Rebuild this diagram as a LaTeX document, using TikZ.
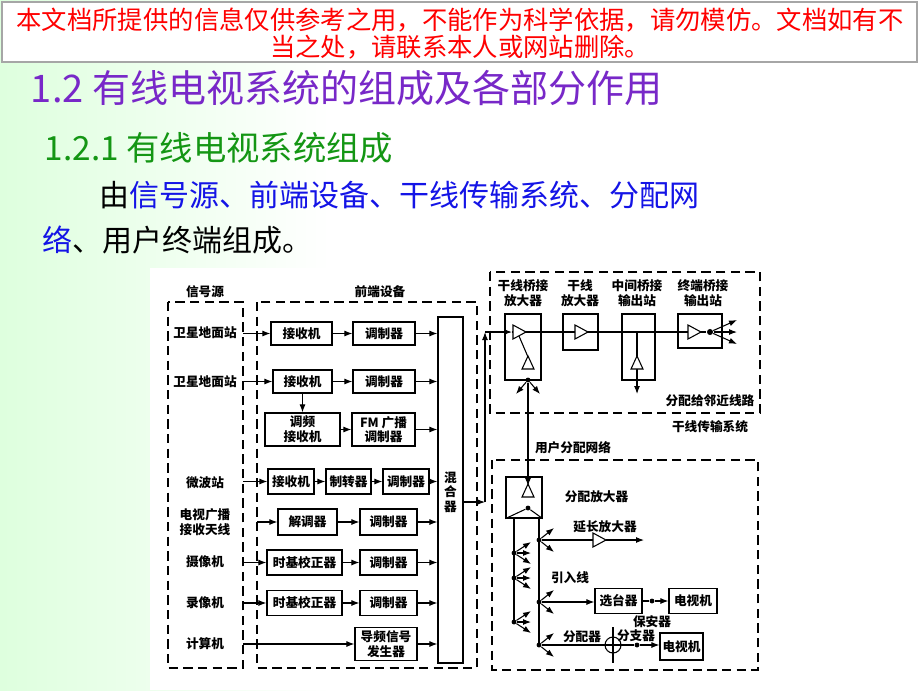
\documentclass[tikz,border=0pt]{standalone}
\usepackage{fontspec}
\setmainfont{Noto Sans CJK SC}
\usetikzlibrary{arrows.meta}
\definecolor{ttlpurple}{RGB}{120,40,200}
\definecolor{subgreen}{RGB}{20,150,20}
\definecolor{txtblue}{RGB}{20,20,230}
\tikzset{every picture/.style={line width=0.75pt}}
\tikzset{
  box/.style={draw,line width=0.9pt,inner sep=0pt,align=center,font=\fontsize{9.5}{11}\selectfont\bfseries},
  lbl/.style={align=center,font=\fontsize{9.5}{11}\selectfont\bfseries},
  arr/.style={-{Latex[length=6pt,width=4.5pt]},line width=0.8pt},
  ln/.style={line width=0.8pt},
  dsh/.style={line width=1pt,dash pattern=on 7pt off 4pt},
  dot/.style={circle,fill,inner sep=1.6pt},
  ampR/.pic={\draw[fill=white,line width=0.8pt] (-6,-7) -- (7,0) -- (-6,7) -- cycle;},
  ampD/.pic={\draw[fill=white,line width=0.8pt] (-6,-6) -- (6,-6) -- (0,7) -- cycle;}
}
\begin{document}
\begin{tikzpicture}[x=0.75pt,y=0.75pt,yscale=-1,xscale=1]
\useasboundingbox (0,0) rectangle (920,690);
%background
\fill[white] (0,0) rectangle (920,690);
\shade[left color=green!13!white,right color=white] (0,0) rectangle (330,690);
\fill[white] (150,268) rectangle (775,690);

% banner
\draw[gray!70,fill=white,line width=1.2pt] (2,2) rectangle (917,62);
\node[red,font=\fontsize{19}{23}\selectfont] (note1) at (460,20) {本文档所提供的信息仅供参考之用，不能作为科学依据，请勿模仿。文档如有不};
\node[red,font=\fontsize{19}{23}\selectfont] (note2) at (460,47) {当之处，请联系本人或网站删除。};

% headings
\node[anchor=west,ttlpurple,font=\fontsize{28.5}{32}\selectfont] (title) at (26,88) {1.2 有线电视系统的组成及各部分作用};
\node[anchor=west,subgreen,font=\fontsize{25}{30}\selectfont] (sub) at (40,148) {1.2.1 有线电视系统组成};
\node[anchor=west,font=\fontsize{22.5}{27}\selectfont] (body1) at (95,195) {由\textcolor{txtblue}{信号源、前端设备、干线传输系统、分配网}};
\node[anchor=west,font=\fontsize{22.5}{27}\selectfont] (body2) at (38,240) {\textcolor{txtblue}{络}、用户终端组成。};

% dashed frames
\draw[dsh] (168,302) rectangle (243,668);
\draw[dsh] (257,302) rectangle (477,668);
\draw[dsh] (490,272) rectangle (760,413);
\draw[dsh] (492,460) rectangle (758,670);
\node[lbl] (srcT) at (205,292) {信号源};
\node[lbl] (feT) at (380,292) {前端设备};
\node[lbl] (trkT) at (710,427) {干线传输系统};
\node[lbl] (usrT) at (573,448) {用户分配网络};
\node[lbl] (adjT) at (710,401) {分配给邻近线路};

% signal sources
\node[lbl] (sat1) at (205,333) {卫星地面站};
\node[lbl] (sat2) at (205,382) {卫星地面站};
\node[lbl] (mw) at (205,483) {微波站};
\node[lbl] (ant) at (205,522) {电视广播\\接收天线};
\node[lbl] (cam) at (205,562) {摄像机};
\node[lbl] (vcr) at (205,603) {录像机};
\node[lbl] (pc) at (205,644) {计算机};

% head end
\node[box,minimum width=18.75pt,minimum height=259.5pt] (mix) at (450.5,490) {};
\node[lbl] (mixT) at (450.5,492) {混\\合\\器};
\node[box,minimum width=45.75pt,minimum height=17.25pt] (rx1) at (301.5,333.5) {接收机};
\node[box,minimum width=46.5pt,minimum height=17.25pt] (md1) at (384,333.5) {调制器};
\node[box,minimum width=44.25pt,minimum height=17.25pt] (rx2) at (302.5,381.5) {接收机};
\node[box,minimum width=46.5pt,minimum height=17.25pt] (md2) at (384,381.5) {调制器};
\node[box,minimum width=56.25pt,minimum height=24.75pt] (fmrx) at (302.5,429.5) {调频\\接收机};
\node[box,minimum width=47.25pt,minimum height=24.75pt] (fmmd) at (383.5,429.5) {FM 广播\\调制器};
\node[box,minimum width=34.5pt,minimum height=18.75pt] (rx4) at (291,481.5) {接收机};
\node[box,minimum width=33.75pt,minimum height=18.75pt] (cv4) at (348.5,481.5) {制转器};
\node[box,minimum width=34.5pt,minimum height=18.75pt] (md4) at (406,481.5) {调制器};
\node[box,minimum width=44.25pt,minimum height=19.5pt] (dm5) at (307.5,522) {解调器};
\node[box,minimum width=42.75pt,minimum height=19.5pt] (md5) at (388.5,522) {调制器};
\node[box,minimum width=56.25pt,minimum height=18.75pt] (tb6) at (304.5,562.5) {时基校正器};
\node[box,minimum width=42.75pt,minimum height=18.75pt] (md6) at (388.5,562.5) {调制器};
\node[box,minimum width=56.25pt,minimum height=18.75pt] (tb7) at (304.5,603) {时基校正器};
\node[box,minimum width=42.75pt,minimum height=18.75pt] (md7) at (388.5,603) {调制器};
\node[box,minimum width=46.5pt,minimum height=24.75pt] (pil) at (386,644) {导频信号\\发生器};

\coordinate (s1) at (243,333.5);
\coordinate (s2) at (243,381.5);
\coordinate (s4) at (243,481.5);
\coordinate (s5) at (257,522);
\coordinate (s6) at (243,562.5);
\coordinate (s7) at (243,603);
\coordinate (s8) at (243,644);
\draw[arr] (s1) -- (rx1);
\draw[arr] (s2) -- (rx2);
\draw[arr] (s4) -- (rx4);
\draw[arr] (s5) -- (dm5);
\draw[arr] (s6) -- (tb6);
\draw[arr] (s7) -- (tb7);
\draw[arr] (s8) -- (pil);
\draw[ln] (257,639) -- (257,649);
\draw[arr] (rx1) -- (md1);
\draw[arr] (rx2) -- (md2);
\draw[arr] (rx2) -- (fmrx);
\draw[arr] (fmrx) -- (fmmd);
\draw[arr] (rx4) -- (cv4);
\draw[arr] (cv4) -- (md4);
\draw[arr] (dm5) -- (md5);
\draw[arr] (tb6) -- (md6);
\draw[arr] (tb7) -- (md7);
\foreach \m in {md1,md2,fmmd,md4,md5,md6,md7,pil}
  \draw[arr] (\m) -- (\m -| mix.west);

% mixer output to trunk
\coordinate (up) at (485,502);
\coordinate (tk) at (485,332);
\draw[arr] (mix.east |- up) -- (up);
\draw[arr] (up) -- (tk);

% trunk line
\node[lbl] (bbT) at (523,293) {干线桥接\\放大器};
\node[lbl] (taT) at (580,293) {干线\\放大器};
\node[lbl] (miT) at (637,293) {中间桥接\\输出站};
\node[lbl] (teT) at (703,293) {终端桥接\\输出站};
\node[box,minimum width=27pt,minimum height=49.5pt] (bb) at (523,347) {};
\node[box,minimum width=26.25pt,minimum height=27pt] (ta) at (580.5,332) {};
\node[box,minimum width=24.75pt,minimum height=49.5pt] (mi) at (638.5,347) {};
\node[box,minimum width=33pt,minimum height=25.5pt] (te) at (700,331) {};
\node[dot] (tdot) at (710,332) {};
\node[dot,inner sep=1.3pt] (bdot) at (528,380) {};
\draw[arr] (tk) -- (512,332);
\draw[ln] (512,332) -- (tdot);
\draw[ln] (519,336) -- (528,357);
\draw[arr] (637,332) -- (637,394);
\pic at (519,332) {ampR};
\pic at (581,332) {ampR};
\pic at (694,332) {ampR};
\pic at (528,363) {ampD};
\pic at (637,363) {ampD};
\foreach \dy in {-12,0,12}
  \draw[arr] (tdot) -- ++(27,\dy);
\draw[arr] (bdot) -- ++(-12,14);
\draw[arr] (bdot) -- ++(12,14);

% user network
\node[box,minimum width=27pt,minimum height=30.75pt] (da) at (524,497.5) {};
\node[lbl,anchor=west] (daT) at (560,497) {分配放大器};
\draw[arr] (bdot) -- (528,486);
\pic at (528,491) {ampD};
\node[dot,inner sep=1.3pt] (ddot) at (528,508) {};
\draw[ln] (da.south west) -- (ddot) -- (da.south east);
\draw[ln] (514,518) -- (514,622);
\draw[ln] (539,518) -- (539,645);
\foreach \y in {553,578,622}{
  \node[dot,inner sep=1.3pt] (l\y) at (514,\y) {};
  \foreach \dy in {-11,0,11} \draw[arr] (l\y) -- ++(17,\dy);
}
\foreach \y in {540,602,645}{
  \node[dot,inner sep=1.3pt] (r\y) at (539,\y) {};
  \draw[arr] (r\y) -- ++(15,-12);
  \draw[arr] (r\y) -- ++(15,12);
}
\node[lbl] (extT) at (605,527) {延长放大器};
\draw[ln] (r540) -- (594,540);
\pic at (599,540) {ampR};
\draw[arr] (606,540) -- (644,540);
\node[lbl] (leadT) at (570,578) {引入线};
\node[box,minimum width=35.25pt,minimum height=18.75pt] (sel) at (618.5,601) {选台器};
\node[box,minimum width=36pt,minimum height=18.75pt] (tv1) at (693,601) {电视机};
\node[dot,inner sep=1.3pt] (sdot) at (652,601) {};
\draw[arr] (r602) -- (sel.west |- r602);
\draw[ln] (sel) -- (sdot);
\draw[arr] (sdot) -- (tv1);
\node[lbl] (splT) at (582,637) {分配器};
\node[lbl] (protT) at (652,622) {保安器};
\node[lbl] (tapT) at (636,636) {分支器};
\node[draw,circle,line width=0.8pt,minimum size=12pt,inner sep=0pt] (tap) at (613,645) {};
\draw[ln] (613,627) -- (613,663);
\node[box,minimum width=32.25pt,minimum height=20.25pt] (tv2) at (681.5,646.5) {电视机};
\node[dot,inner sep=1.3pt] (pdot) at (637,645) {};
\draw[ln] (r645) -- (pdot);
\draw[arr] (pdot) -- (tv2.west |- pdot);
\end{tikzpicture}
\end{document}
